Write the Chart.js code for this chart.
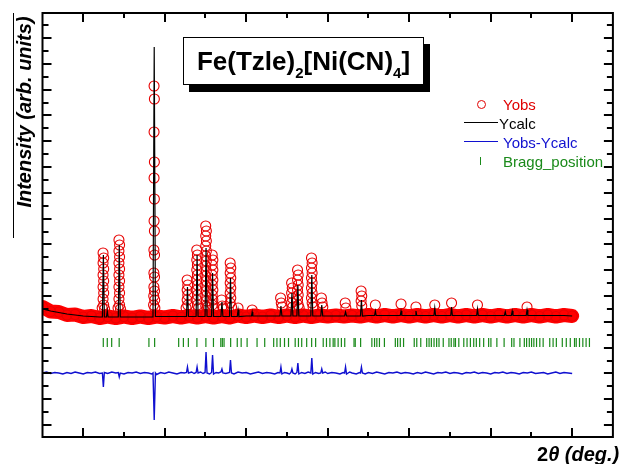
<!DOCTYPE html>
<html>
<head>
<meta charset="utf-8">
<script src="https://cdn.jsdelivr.net/npm/chart.js@4/dist/chart.umd.min.js"></script>
<style>
  body { margin: 0; background: #fff; }
  #wrap { position: relative; width: 619px; height: 464px; font-family: "Liberation Sans", Arial, sans-serif; }
  #rietveld { position: absolute; left: 0; top: 0; }
  .txt { position: absolute; white-space: nowrap; font-size: 15px; line-height: 15px; }
  #formula { position: absolute; left: 183px; top: 37px; width: 239px; height: 46px; border: 1.5px solid #000;
    background: #fff; box-shadow: 6px 7px 0 #000; font-weight: bold; font-size: 26px; line-height: 46px; text-align: center; }
  #formula sub { font-size: 15px; vertical-align: baseline; position: relative; top: 8px; }
  #ylabel { position: absolute; left: -76px; top: 102px; width: 200px; text-align: center; font-weight: bold; font-style: italic;
    font-size: 20px; line-height: 20px; transform: rotate(-90deg); white-space: nowrap; }
  #yline { position: absolute; left: 13px; top: 13px; width: 0; height: 225px; border-left: 1.5px solid #000; }
  #xlabel { position: absolute; left: 537px; top: 444px; font-weight: bold; font-style: italic; font-size: 20px; line-height: 20px; white-space: nowrap; }
  #xlabel span { font-style: normal; }
  .sym { position: absolute; }
</style>
</head>
<body>
<div id="wrap">
  <canvas id="rietveld" width="619" height="464"></canvas>
  <div id="formula">Fe(Tzle)<sub>2</sub>[Ni(CN)<sub>4</sub>]</div>
  <div id="yline"></div>
  <div id="ylabel">Intensity (arb. units)</div>
  <div id="xlabel"><span>2</span>θ (deg.)</div>

  <div class="sym" style="left:477px;top:100px;width:7px;height:7px;border:1.3px solid #e00000;border-radius:50%;"></div>
  <div class="txt" style="left:503px;top:97px;color:#e00000;">Yobs</div>
  <div class="sym" style="left:464px;top:122px;width:34px;border-top:1.3px solid #000;"></div>
  <div class="txt" style="left:499px;top:116px;color:#000;">Ycalc</div>
  <div class="sym" style="left:464px;top:141px;width:34px;border-top:1.3px solid #1010d0;"></div>
  <div class="txt" style="left:503px;top:135px;color:#1010d0;">Yobs-Ycalc</div>
  <div class="sym" style="left:480px;top:157px;height:8px;border-left:1.5px solid #1a8a1a;"></div>
  <div class="txt" style="left:503px;top:154px;color:#1a8a1a;">Bragg_position</div>
</div>

<script>
// 2theta range and frame ticks
const xMin = 5;
const xMax = 75;
const xMajorTicks = [10, 20, 30, 40, 50, 60, 70];
const xMinorTicks = [15, 25, 35, 45, 55, 65];
const yMin = -1200;
const yMax = 41200;
const yTickStep = 1290;

// observed background (band), [2theta, counts]
const obsBackground = [
  [5, 11800], [6, 11350], [7, 11300], [8, 11000], [9, 11050], [10, 10800], [11, 10900], [12, 10700],
  [13, 10850], [14, 10700], [15, 10850], [16, 10700], [17, 10850], [18, 10700], [19, 10850], [20, 10750],
  [21, 10900], [22, 10750], [23, 10900], [24, 10750], [25, 10900], [26, 10750], [27, 10900], [28, 10750],
  [29, 10950], [30, 10800], [31, 10950], [32, 10800], [33, 10950], [34, 10800], [35, 10950], [36, 10800],
  [37, 10950], [38, 10800], [39, 10950], [40, 10850], [41, 10950], [42, 10850], [43, 10950], [44, 10850],
  [45, 11000], [46, 10850], [47, 11000], [48, 10850], [49, 11000], [50, 10850], [51, 11000], [52, 10850],
  [53, 11000], [54, 10850], [55, 11000], [56, 10850], [57, 11000], [58, 10850], [59, 11000], [60, 10850],
  [61, 11000], [62, 10850], [63, 11000], [64, 10850], [65, 11000], [66, 10850], [67, 11000], [68, 10850],
  [69, 11000], [70, 10900]
];

// observed points on the Bragg peaks
const obsPeaks = [
  [12.43, 17200], [12.51, 16700], [12.43, 16200], [12.51, 15600], [12.43, 15000], [12.51, 14400], [12.43, 13800],
  [12.51, 13200], [12.43, 12600], [12.51, 12000], [12.32, 11700], [12.62, 11600],
  [14.38, 18500], [14.46, 18000], [14.38, 17400], [14.46, 16800], [14.38, 16200], [14.46, 15600], [14.38, 15000],
  [14.46, 14400], [14.38, 13800], [14.46, 13200], [14.38, 12600], [14.46, 12000], [14.27, 11700], [14.57, 11600],
  [18.69, 33900], [18.73, 32600], [18.69, 29300], [18.73, 26300], [18.69, 24700], [18.73, 22600], [18.69, 20400], [18.73, 19400],
  [18.67, 17500], [18.75, 17000], [18.67, 15200], [18.75, 14800], [18.67, 13800], [18.75, 13400], [18.65, 12900], [18.77, 12500],
  [18.63, 12000], [18.79, 11700],
  [22.75, 14500], [22.83, 14000], [22.75, 13500], [22.83, 13000], [22.75, 12500], [22.83, 12000], [22.62, 11700],
  [23.93, 17500], [24.01, 17000], [23.93, 16500], [24.01, 16000], [23.93, 15500], [24.01, 15000], [23.93, 14500],
  [24.01, 14000], [23.93, 13500], [24.01, 13000], [23.93, 12500], [24.01, 12000], [24.15, 11700],
  [25.03, 19900], [25.11, 19400], [25.03, 18900], [25.11, 18400], [25.03, 17900], [25.11, 17400], [25.03, 16900],
  [25.11, 16400], [25.03, 15900], [25.11, 15400], [25.03, 14900], [25.11, 14400], [25.03, 13900], [25.11, 13400],
  [25.03, 12900], [25.11, 12400], [25.03, 11900], [25.25, 11800],
  [25.83, 17000], [25.91, 16500], [25.83, 16000], [25.91, 15500], [25.83, 15000], [25.91, 14500], [25.83, 14000],
  [25.91, 13500], [25.83, 13000], [25.91, 12500], [25.83, 12000], [26.02, 11700],
  [26.98, 12500], [27.06, 11900], [27.2, 11700],
  [28.03, 16200], [28.11, 15700], [28.03, 15200], [28.11, 14700], [28.03, 14200], [28.11, 13700], [28.03, 13200],
  [28.11, 12700], [28.03, 12200], [28.2, 11800],
  [29.0, 11700], [30.73, 11500],
  [34.22, 12700], [34.30, 12200], [34.4, 11800],
  [35.57, 14200], [35.65, 13700], [35.57, 13200], [35.65, 12700], [35.57, 12200], [35.7, 11800],
  [36.30, 15500], [36.38, 15000], [36.30, 14500], [36.38, 14000], [36.30, 13500], [36.38, 13000], [36.30, 12500],
  [36.38, 12000], [36.5, 11700],
  [38.01, 16700], [38.09, 16200], [38.01, 15700], [38.09, 15200], [38.01, 14700], [38.09, 14200], [38.01, 13700],
  [38.09, 13200], [38.01, 12700], [38.09, 12200], [38.2, 11800],
  [39.23, 12700], [39.31, 12200], [39.4, 11800],
  [42.15, 12200], [42.23, 11700],
  [44.10, 13400], [44.18, 12900], [44.10, 12400], [44.18, 11900],
  [45.85, 12000], [49.0, 12100], [50.83, 11800], [53.14, 12000], [55.2, 12200], [58.38, 12000], [64.46, 11800]
];

// calculated profile
const calcCurve = [
  [5, 11600], [6, 11400], [7, 11250], [8, 11100], [9, 11000], [10, 10900], [11, 10850], [12, 10800],
  [12.35, 10800], [12.47, 17000], [12.59, 10800], [12.85, 10800], [12.95, 11400], [13.05, 10800],
  [14, 10800], [14.3, 10800], [14.42, 18000], [14.54, 10800],
  [15, 10800], [16, 10800], [17, 10800], [18, 10800], [18.56, 10800], [18.71, 37800], [18.86, 10850],
  [19, 10850], [20, 10850], [21, 10850], [22, 10850],
  [22.67, 10850], [22.79, 13800], [22.91, 10850],
  [23.85, 10850], [23.97, 17000], [24.09, 10850],
  [24.95, 10850], [25.07, 17700], [25.19, 10850],
  [25.75, 10850], [25.87, 15200], [25.99, 10850],
  [26.5, 10850], [26.9, 10850], [27.02, 12300], [27.14, 10850],
  [27.95, 10850], [28.07, 14700], [28.19, 10850],
  [28.9, 10850], [29.0, 11500], [29.1, 10850],
  [30, 10900], [30.65, 10900], [30.73, 11300], [30.81, 10900], [31, 10900], [32, 10900], [33, 10900],
  [34.14, 10900], [34.26, 11900], [34.38, 10900],
  [35, 10900], [35.49, 10900], [35.61, 13200], [35.73, 10900],
  [36.22, 10900], [36.34, 14000], [36.46, 10900],
  [37, 10900], [37.93, 10900], [38.05, 15000], [38.17, 10900],
  [39.15, 10900], [39.27, 12000], [39.39, 10900],
  [40, 10900], [41, 10900], [42.07, 10900], [42.19, 11300], [42.31, 10900],
  [43, 10900], [44.02, 10900], [44.14, 12500], [44.26, 10900],
  [45, 10950], [45.75, 10950], [45.85, 11400], [45.95, 10950],
  [47, 10950], [48, 10950], [48.9, 10950], [49.0, 11400], [49.1, 10950],
  [50, 10950], [50.73, 10950], [50.83, 11400], [50.93, 10950],
  [52, 10950], [53.04, 10950], [53.14, 11700], [53.24, 10950],
  [54, 10950], [55.1, 10950], [55.2, 11800], [55.3, 10950],
  [56, 10950], [57, 10950], [58.28, 10950], [58.38, 11600], [58.48, 10950],
  [59, 10950], [60, 10950], [61, 10950], [61.69, 10950], [61.79, 11300], [61.89, 10950],
  [62.54, 10950], [62.64, 11400], [62.74, 10950],
  [63.5, 10950], [64.36, 10950], [64.46, 11500], [64.56, 10950],
  [65, 10950], [66, 10950], [67, 10950], [68, 10950], [69, 10950], [70, 10900]
];

// difference curve (offset)
const diffCurve = [
  [5, 5200], [5.5, 5300], [6, 5150], [6.5, 5250], [7, 5200], [7.5, 5100], [8, 5250], [8.5, 5150], [9, 5300], [9.5, 5200],
  [10, 5100], [10.5, 5250], [11, 5200], [11.5, 5300], [12, 5150],
  [12.35, 5200], [12.47, 3800], [12.59, 5250], [13, 5150], [13.5, 5300], [14, 5200],
  [14.3, 5250], [14.42, 4800], [14.54, 5200], [15, 5100], [15.5, 5250], [16, 5200], [16.5, 5300], [17, 5150], [17.5, 5250],
  [18, 5200], [18.4, 5100], [18.56, 5200], [18.71, 500], [18.86, 5200], [19, 5050], [19.5, 5250], [20, 5150], [20.5, 5300],
  [21, 5200], [21.5, 5100], [22, 5250], [22.4, 5200],
  [22.67, 5250], [22.79, 5800], [22.91, 5200], [23.3, 5300], [23.6, 5150], [23.85, 5250], [23.97, 5800], [24.09, 5200],
  [24.4, 5300], [24.7, 5150], [24.95, 5250], [25.07, 7300], [25.19, 5200], [25.5, 5100], [25.75, 5250], [25.87, 7000],
  [25.99, 5100], [26.3, 5250], [26.6, 5200], [26.9, 5300], [27.02, 5600], [27.14, 5200], [27.5, 5150], [27.95, 5250],
  [28.07, 6500], [28.19, 5200], [28.5, 5100], [29, 5300], [29.5, 5200], [30, 5250], [30.5, 5100], [31, 5200], [31.5, 5300],
  [32, 5150], [32.5, 5250], [33, 5200], [33.5, 5100], [33.9, 5250],
  [34.14, 5200], [34.26, 5800], [34.38, 5100], [34.7, 5250], [35, 5200], [35.3, 5100], [35.49, 5250], [35.61, 5600],
  [35.73, 5200], [36, 5100], [36.22, 5250], [36.34, 6200], [36.46, 5100], [36.8, 5250], [37.2, 5150], [37.6, 5300],
  [37.93, 5200], [38.05, 6700], [38.17, 5100], [38.5, 5250], [38.9, 5150], [39.15, 5200], [39.27, 5600], [39.39, 5200],
  [39.7, 5300], [40, 5150], [40.5, 5250], [41, 5200], [41.5, 5100], [41.9, 5250], [42.07, 5200], [42.19, 5800],
  [42.31, 5100], [42.7, 5300], [43, 5200], [43.5, 5100], [43.9, 5250], [44.02, 5200], [44.14, 5800], [44.26, 5200],
  [44.6, 5100], [45, 5250], [45.5, 5150], [46, 5300], [46.5, 5200], [47, 5100], [47.5, 5250], [48, 5200], [48.5, 5300],
  [49, 5150], [49.5, 5250], [50, 5200], [50.5, 5100], [51, 5250], [51.5, 5150], [52, 5300], [52.5, 5200], [53, 5100],
  [53.5, 5250], [54, 5200], [54.5, 5300], [55, 5150], [55.5, 5250], [56, 5200], [56.5, 5100], [57, 5250], [57.5, 5200],
  [58, 5300], [58.5, 5150], [59, 5250], [59.5, 5200], [60, 5100], [60.5, 5250], [61, 5200], [61.5, 5300], [62, 5150],
  [62.5, 5250], [63, 5200], [63.5, 5100], [64, 5250], [64.5, 5200], [65, 5300], [65.5, 5150], [66, 5200], [66.5, 5250],
  [67, 5100], [67.5, 5200], [68, 5300], [68.5, 5150], [69, 5250], [69.5, 5200], [70, 5150]
];

// reflection positions (2theta)
const braggPositions = [
  12.46, 12.95, 13.49, 14.41, 18.06, 18.76, 21.71, 22.29, 22.90, 23.95, 25.05, 25.98, 26.88, 27.07, 27.28,
  28.09, 28.90, 29.38, 30.11, 31.33, 32.27, 33.37, 33.77, 34.18, 34.70, 35.19, 36.01, 36.41, 36.81, 37.42,
  38.03, 38.52, 39.45, 39.85, 40.27, 40.67, 40.88, 41.28, 41.68, 42.09, 43.23, 43.38, 44.04, 45.42, 45.75,
  46.03, 46.35, 46.96, 48.30, 48.58, 48.91, 49.31, 50.62, 50.93, 51.42, 52.15, 52.44, 52.72, 53.05, 53.37,
  53.66, 54.18, 54.88, 55.16, 55.49, 55.68, 56.09, 56.70, 57.10, 57.51, 57.92, 58.24, 58.65, 59.14, 59.75,
  60.03, 60.76, 61.65, 62.58, 62.86, 63.59, 64.13, 64.41, 64.74, 65.02, 65.30, 65.63, 66.03, 66.44, 67.25,
  67.66, 68.06, 68.79, 69.28, 69.77, 70.29, 70.50, 70.90, 71.31, 71.71, 72.12
];
const braggLevel = 8250;

const toXY = (pairs) => pairs.map((p) => ({ x: p[0], y: p[1] }));

const frameTicks = {
  id: "frameTicks",
  afterDraw(chart) {
    const { ctx, chartArea: a, scales } = chart;
    const x = scales.x;
    const y = scales.y;
    ctx.save();
    ctx.strokeStyle = "#000";
    ctx.lineWidth = 2;
    ctx.beginPath();
    xMajorTicks.forEach((v) => {
      const px = Math.round(x.getPixelForValue(v));
      ctx.moveTo(px, a.bottom); ctx.lineTo(px, a.bottom - 9);
      ctx.moveTo(px, a.top); ctx.lineTo(px, a.top + 9);
    });
    xMinorTicks.forEach((v) => {
      const px = Math.round(x.getPixelForValue(v));
      ctx.moveTo(px, a.bottom); ctx.lineTo(px, a.bottom - 5);
      ctx.moveTo(px, a.top); ctx.lineTo(px, a.top + 5);
    });
    for (let k = 0; k * yTickStep < yMax; k++) {
      const py = Math.round(y.getPixelForValue(k * yTickStep));
      if (py < a.top + 3) break;
      const len = k % 2 === 0 ? 9 : 6;
      ctx.moveTo(a.left, py); ctx.lineTo(a.left + len, py);
      ctx.moveTo(a.right, py); ctx.lineTo(a.right - len, py);
    }
    ctx.stroke();
    ctx.strokeRect(a.left, a.top, a.right - a.left, a.bottom - a.top);
    ctx.restore();
  }
};

const ctx = document.getElementById("rietveld");
const myChart = new Chart(ctx, {
  type: "scatter",
  data: {
    datasets: [
      {
        label: "Yobs band",
        data: toXY(obsBackground),
        showLine: true,
        borderColor: "#ff0000",
        borderWidth: 14,
        borderJoinStyle: "round",
        borderCapStyle: "round",
        pointRadius: 0,
        order: 5,
      },
      {
        label: "Yobs",
        data: toXY(obsBackground.concat(obsPeaks)),
        showLine: false,
        pointStyle: "circle",
        pointRadius: 5,
        borderColor: "#e80000",
        backgroundColor: "rgba(0,0,0,0)",
        pointBorderWidth: 1.1,
        order: 4,
      },
      {
        label: "Bragg_position",
        data: braggPositions.map((v) => ({ x: v, y: braggLevel })),
        showLine: false,
        pointStyle: "line",
        rotation: 90,
        pointRadius: 4.5,
        borderColor: "#1a8a1a",
        pointBorderWidth: 1.2,
        order: 3,
      },
      {
        label: "Yobs-Ycalc",
        data: toXY(diffCurve),
        showLine: true,
        borderColor: "#1010d0",
        borderWidth: 1.4,
        pointRadius: 0,
        order: 2,
      },
      {
        label: "Ycalc",
        data: toXY(calcCurve),
        showLine: true,
        borderColor: "#000",
        borderWidth: 1.2,
        pointRadius: 0,
        order: 1,
      },
    ],
  },
  options: {
    responsive: false,
    animation: false,
    layout: { padding: { left: 42.5, right: 2, top: 13, bottom: 27 } },
    scales: {
      x: { type: "linear", min: xMin, max: xMax, display: false },
      y: { type: "linear", min: yMin, max: yMax, display: false },
    },
    plugins: {
      legend: { display: false },
      tooltip: { enabled: false },
    },
  },
  plugins: [frameTicks],
});
</script>
</body>
</html>
